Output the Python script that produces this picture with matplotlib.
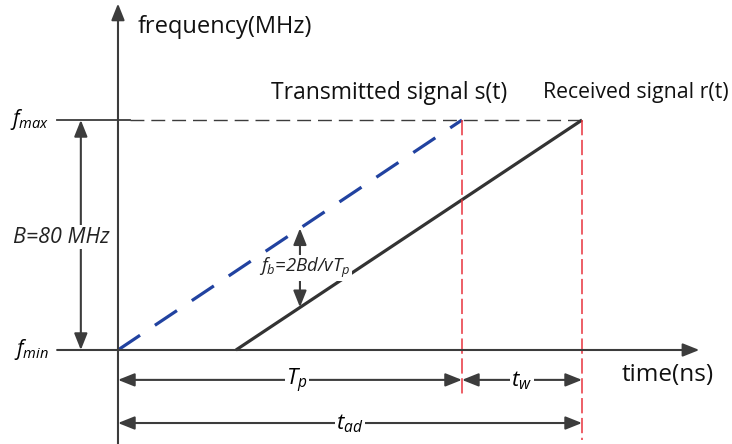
import matplotlib
matplotlib.use("Agg")
import matplotlib.pyplot as plt

# chirp lines (time in units of Tp/10, frequency in MHz above f_min)
t_tx = [0.0, 10.0]
f_tx = [0.0, 80.0]
t_rx = [3.43, 13.49]
f_rx = [0.0, 80.0]

f_min, f_max = 0.0, 80.0
t_p = 10.0
t_ad = 13.49
t_probe = 5.29   # where the beat-frequency arrow sits

axis_col = "#3c3c3c"
blue = "#2142a0"
red = "#e8333d"

plt.rcParams["font.family"] = ["Open Sans", "DejaVu Sans"]
plt.rcParams["mathtext.fontset"] = "custom"
plt.rcParams["mathtext.it"] = "Open Sans:italic"
plt.rcParams["mathtext.rm"] = "Open Sans"

fig = plt.figure(figsize=(7.32, 4.44), dpi=100)
ax = fig.add_axes([0, 0, 1, 1])
ax.set_xlim(-3.43, 17.85)
ax.set_ylim(-32.7, 121.74)
ax.axis("off")


def arrow(x0, y0, x1, y1, style="-|>"):
    ax.annotate("", xy=(x1, y1), xytext=(x0, y0),
                arrowprops=dict(arrowstyle=style + ",head_length=1.0,head_width=0.4",
                                mutation_scale=10, color=axis_col, lw=1.5,
                                shrinkA=0, shrinkB=0))


# axes
arrow(0, -32.7, 0, 120.5)
arrow(-1.77, f_min, 16.9, f_min)
ax.plot([-1.77, 0.35], [f_max, f_max], color=axis_col, lw=1.3)
ax.plot([0.35, t_ad], [f_max, f_max], color=axis_col, lw=1.0, dashes=(10, 5))

# signals
ax.plot(t_tx, f_tx, color=blue, lw=2.3, dashes=(8.3, 5.6))
ax.plot(t_rx, f_rx, color="#333333", lw=2.3, solid_capstyle="butt")

# red markers
ax.plot([t_p, t_p], [f_max, -16.7], color=red, lw=1.1, dashes=(10, 3))
ax.plot([t_ad, t_ad], [f_max, -31.3], color=red, lw=1.1, dashes=(10, 3))

# bandwidth
arrow(-1.08, 40, -1.08, f_max)
arrow(-1.08, 40, -1.08, f_min)
ax.text(-1.64, 39.3, "B=80 MHz", style="italic", fontsize=15.5, ha="center", va="center",
        color="#222222", bbox=dict(fc="white", ec="none", pad=1))

# beat frequency
f_probe_tx = t_probe * 8.0
f_probe_rx = (t_probe - t_rx[0]) * 8.0
arrow(t_probe, 29, t_probe, f_probe_tx)
arrow(t_probe, 29, t_probe, f_probe_rx)
ax.text(5.44, 28.5, r"$f_b$=2Bd/v$T_p$", style="italic", fontsize=13.3, ha="center",
        va="center", color="#222222", bbox=dict(fc="white", ec="none", pad=0.5))

# time spans
arrow(5.2, -10.4, 0, -10.4)
arrow(5.2, -10.4, t_p, -10.4)
ax.text(5.2, -10.6, r"$T_p$", fontsize=16, ha="center", va="center",
        bbox=dict(fc="white", ec="none", pad=1))
arrow(11.74, -10.4, t_p, -10.4)
arrow(11.74, -10.4, t_ad, -10.4)
ax.text(11.74, -10.6, r"$t_w$", fontsize=16, ha="center", va="center",
        bbox=dict(fc="white", ec="none", pad=1))
arrow(6.74, -25.4, 0, -25.4)
arrow(6.74, -25.4, t_ad, -25.4)
ax.text(6.74, -25.6, r"$t_{ad}$", fontsize=16, ha="center", va="center",
        bbox=dict(fc="white", ec="none", pad=1))

# frequency labels
ax.text(-2.0, f_max, r"$f_{max}$", fontsize=15, ha="right", va="center")
ax.text(-2.0, f_min, r"$f_{min}$", fontsize=15, ha="right", va="center")

# titles
ax.text(0.58, 112.5, "frequency(MHz)", fontsize=17, ha="left", va="center", color="#111111")
ax.text(15.99, -8.7, "time(ns)", fontsize=17.5, ha="center", va="center", color="#111111")
ax.text(7.88, 89.4, "Transmitted signal s(t)", fontsize=16.5, ha="center", va="center",
        color="#111111")
ax.text(15.06, 89.4, "Received signal r(t)", fontsize=15.3, ha="center", va="center",
        color="#111111")

fig.savefig("out.png", dpi=100)
